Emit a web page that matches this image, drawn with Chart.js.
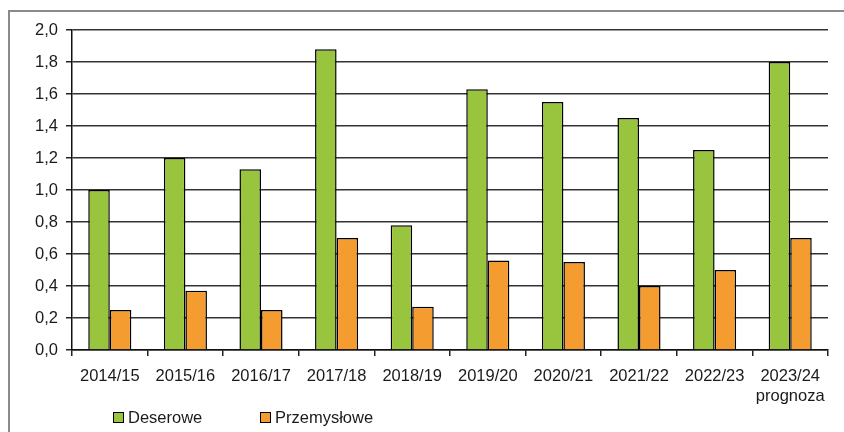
<!DOCTYPE html>
<html>
<head>
<meta charset="utf-8">
<script src="https://cdn.jsdelivr.net/npm/chart.js@4/dist/chart.umd.min.js"></script>
<style>
  html, body { margin: 0; padding: 0; background: #fff; }
  #wrap { position: relative; width: 844px; height: 432px; overflow: hidden; }
  #frame { position: absolute; left: 8px; top: 10px; width: 900px; height: 500px;
           border-left: 2px solid #8a8a8a; border-top: 2px solid #8a8a8a; }
  canvas { position: absolute; left: 0; top: 0; }
  .lg { position: absolute; top: 408px; height: 18px; font: 16.5px "Liberation Sans", Arial, sans-serif;
        color: #1a1a1a; display: flex; align-items: center; }
  .sw { width: 9px; height: 9px; border: 1px solid #000; margin-right: 4px; }
</style>
</head>
<body>
<div id="wrap">
  <div id="frame"></div>
  <canvas id="c" width="844" height="432"></canvas>
  <div class="lg" style="left:113px"><span class="sw" style="background:#99c43d"></span>Deserowe</div>
  <div class="lg" style="left:260px"><span class="sw" style="background:#f59c31"></span>Przemysłowe</div>
</div>
<script>
// Season labels (last one is a forecast)
const seasons = ['2014/15', '2015/16', '2016/17', '2017/18', '2018/19',
                 '2019/20', '2020/21', '2021/22', '2022/23', ['2023/24', 'prognoza']];
// Dessert apples
const deserowe = [1.00, 1.20, 1.13, 1.88, 0.78, 1.63, 1.55, 1.45, 1.25, 1.80];
// Processing apples
const przemyslowe = [0.25, 0.37, 0.25, 0.70, 0.27, 0.56, 0.55, 0.40, 0.50, 0.70];

const font = { family: '"Liberation Sans", Arial, sans-serif', size: 16.5 };

new Chart(document.getElementById('c'), {
  type: 'bar',
  data: {
    labels: seasons,
    datasets: [
      { label: 'Deserowe', data: deserowe, backgroundColor: '#99c43d',
        borderColor: '#000', borderWidth: 1.5 },
      { label: 'Przemysłowe', data: przemyslowe, backgroundColor: '#f59c31',
        borderColor: '#000', borderWidth: 1.5 }
    ]
  },
  options: {
    responsive: false,
    animation: false,
    layout: { padding: { left: 0, top: 30, right: 16, bottom: 0 } },
    datasets: { bar: { categoryPercentage: 0.57, barPercentage: 1.0 } },
    plugins: { legend: { display: false }, tooltip: { enabled: false } },
    scales: {
      x: {
        offset: true,
        grid: {
          offset: true,
          drawOnChartArea: true,
          color: (ctx) => ctx.index === seasons.length ? '#222' : 'rgba(0,0,0,0)',
          tickColor: '#222',
          tickLength: 6,
          lineWidth: 1.5
        },
        border: { color: '#111', width: 1.5 },
        ticks: { font: { ...font, lineHeight: 1.25 }, color: '#1a1a1a', padding: 10, maxRotation: 0 },
        afterFit: (s) => { s.height = 82; }
      },
      y: {
        min: 0, max: 2.0,
        ticks: {
          stepSize: 0.2, font, color: '#1a1a1a', padding: 8,
          callback: (v) => Number(v).toFixed(1).replace('.', ',')
        },
        grid: { color: '#333', lineWidth: 1.5, tickLength: 6, tickColor: '#222' },
        border: { color: '#111', width: 1.5 },
        afterFit: (s) => { s.width = 72; }
      }
    }
  }
});
</script>
</body>
</html>
